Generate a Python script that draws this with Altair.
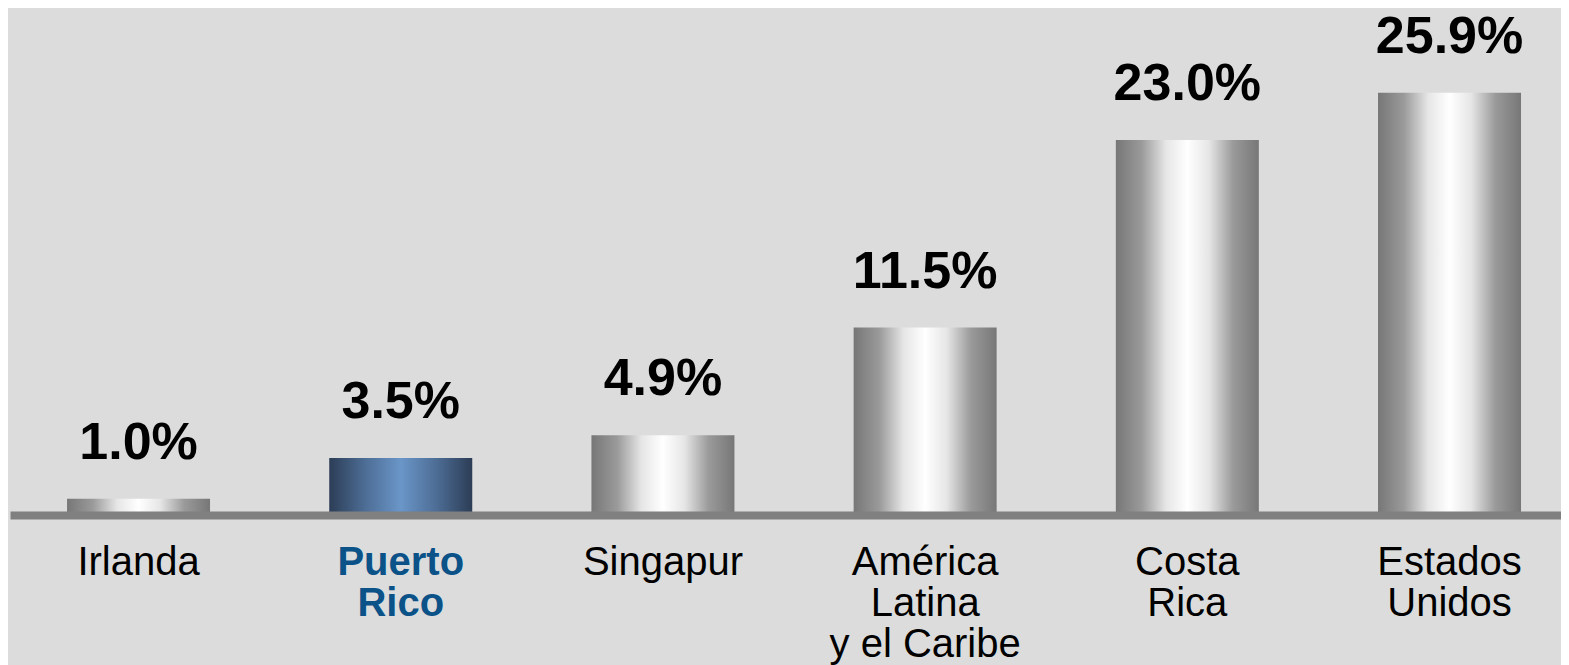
import altair as alt
import pandas as pd

categories = ["Irlanda", "Puerto|Rico", "Singapur", "América|Latina|y el Caribe", "Costa|Rica", "Estados|Unidos"]
values = [1.0, 3.5, 4.9, 11.5, 23.0, 25.9]
highlight = "Puerto|Rico"

df = pd.DataFrame({"cat": categories, "v": values})

grey_grad = alt.Gradient(
    gradient="linear", x1=0, y1=0, x2=1, y2=0,
    stops=[
        alt.GradientStop(offset=0.0, color="#777777"),
        alt.GradientStop(offset=0.18, color="#9a9a9a"),
        alt.GradientStop(offset=0.35, color="#e6e6e6"),
        alt.GradientStop(offset=0.5, color="#ffffff"),
        alt.GradientStop(offset=0.65, color="#e6e6e6"),
        alt.GradientStop(offset=0.82, color="#9a9a9a"),
        alt.GradientStop(offset=1.0, color="#777777"),
    ],
)
blue_grad = alt.Gradient(
    gradient="linear", x1=0, y1=0, x2=1, y2=0,
    stops=[
        alt.GradientStop(offset=0.0, color="#2c3d56"),
        alt.GradientStop(offset=0.25, color="#4d6d95"),
        alt.GradientStop(offset=0.5, color="#6a96c8"),
        alt.GradientStop(offset=0.75, color="#4d6d95"),
        alt.GradientStop(offset=1.0, color="#2c3d56"),
    ],
)

x_enc = alt.X(
    "cat:N",
    sort=categories,
    scale=alt.Scale(paddingInner=0.4546, paddingOuter=0.185, align=0.588),
    axis=alt.Axis(
        title=None,
        labelAngle=0,
        ticks=False,
        domainColor="#808080",
        domainWidth=8,
        labelPadding=27,
        labelFont="Liberation Sans",
        labelFontSize=40,
        labelLineHeight=41,
        labelBaseline="top",
        labelLimit=0,
        labelOverlap=False,
        labelExpr="split(datum.label, '|')",
        labelColor={"condition": {"test": "indexof(datum.value, 'Puerto') >= 0", "value": "#0b5288"}, "value": "#000000"},
        labelFontWeight={"condition": {"test": "indexof(datum.value, 'Puerto') >= 0", "value": "bold"}, "value": "normal"},
        zindex=1,
    ),
)
y_enc = alt.Y("v:Q", scale=alt.Scale(domain=[0, 30], nice=False), axis=None)

base = alt.Chart(df).encode(x=x_enc, y=y_enc)

grey_bars = base.transform_filter(f"datum.cat != '{highlight}'").mark_bar(color=grey_grad)
blue_bars = base.transform_filter(f"datum.cat == '{highlight}'").mark_bar(color=blue_grad)
labels = base.transform_calculate(lab="format(datum.v, '.1f') + '%'").mark_text(
    font="Liberation Sans", fontSize=52, fontWeight="bold", color="#000000",
    baseline="alphabetic", dy=-40,
).encode(text="lab:N")

chart = (
    alt.layer(grey_bars, blue_bars, labels)
    .properties(
        width=1551, height=489,
        autosize=alt.AutoSizeParams(type="none"),
        padding={"left": 2, "top": 18, "right": 0, "bottom": 150},
        background="#dcdcdc",
    )
    .configure_view(stroke=None)
)

chart.save("out.html", embed_options={"renderer": "svg", "actions": False})
